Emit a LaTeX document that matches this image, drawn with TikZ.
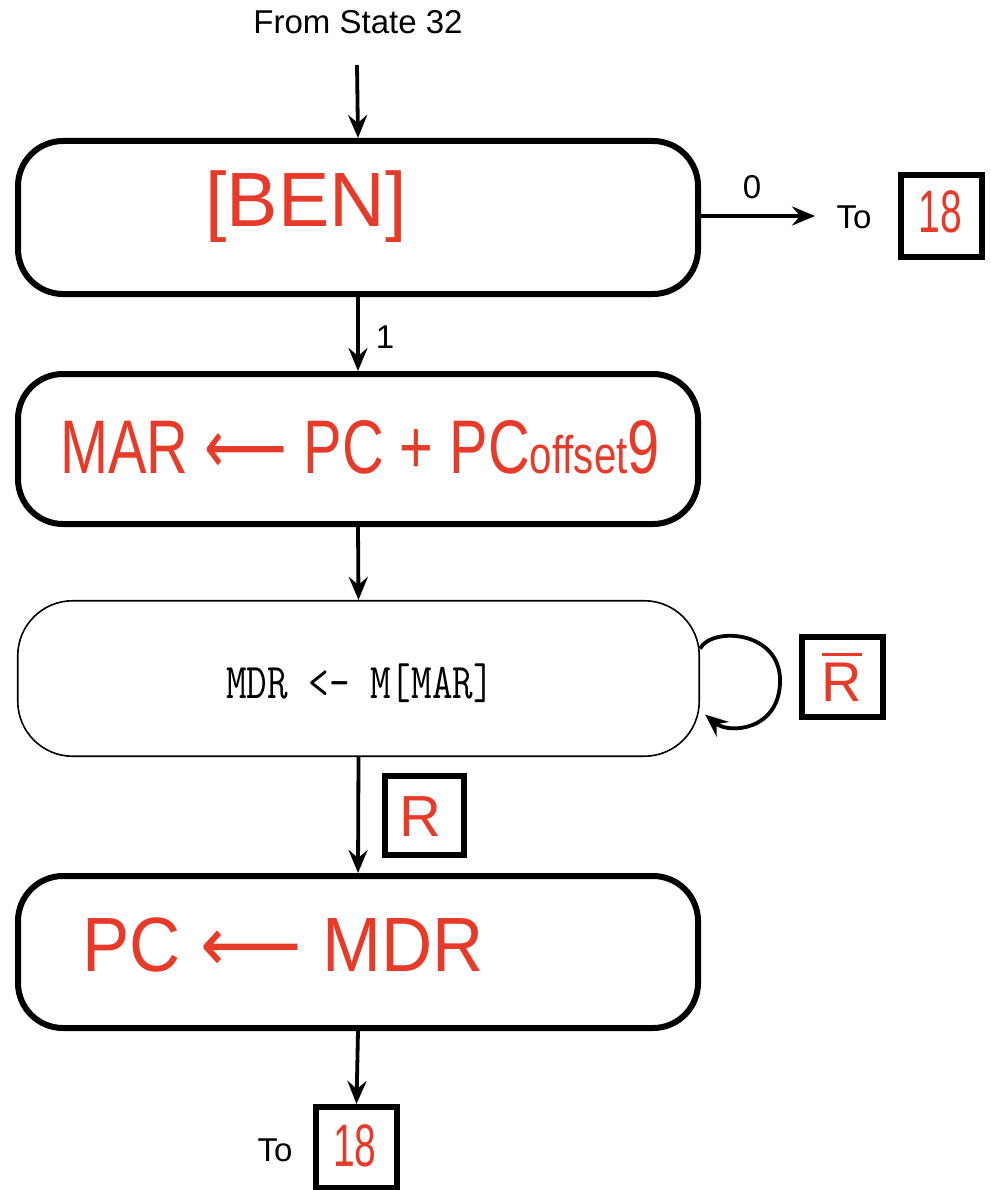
\documentclass[tikz,border=0pt]{standalone}
\usepackage{fontspec}
\setmainfont{Liberation Sans}
\setmonofont{Latin Modern Mono}
\newfontfamily\symf{DejaVu Sans}
\usetikzlibrary{arrows.meta,calc}
\definecolor{hand}{RGB}{232,58,40}
\begin{document}
\begin{tikzpicture}[x=1pt,y=-1pt,
  state/.style={draw, line width=6pt, rounded corners=45pt, minimum width=680pt, minimum height=153pt, inner sep=0pt},
  thinstate/.style={draw, line width=1.6pt, rounded corners=55pt, minimum width=681.5pt, minimum height=155.5pt, inner sep=0pt},
  tagbox/.style={draw, line width=6pt, minimum width=81pt, minimum height=81pt, inner sep=0pt},
  lbl/.style={font=\fontsize{33}{40}\selectfont, inner sep=0pt},
  hw/.style={text=hand, inner sep=0pt},
  conn/.style={line width=3.8pt, -{Stealth[length=23pt,width=19pt,inset=8pt]}}]
\useasboundingbox (0,0) rectangle (990,1190);

% states
\node[state] (s1) at (358,217.5) {};
\node[state, minimum height=150pt] (s2) at (358,449) {};
\node[thinstate] (s3) at (358.5,678.5) {};
\node[state, minimum height=152pt] (s4) at (358,952) {};

% texts inside states
\node[hw, font=\fontsize{77}{80}\selectfont] (t1) at (306,207) {[BEN]};
\node[hw, font=\fontsize{76}{80}\selectfont] (t2) at (360,447)
  {\scalebox{0.76}[1]{MAR {\symf ⟵} PC + PC{\fontsize{53}{56}\selectfont offset}9}};
\node[font=\ttfamily\fontsize{50}{54}\selectfont, inner sep=0pt] (t3) at (360,683)
  {\scalebox{0.8}[1]{MDR <- M[MAR]}};
\node[hw, font=\fontsize{77}{80}\selectfont] (t4) at (283,945)
  {\scalebox{0.92}[1]{PC {\symf ⟵} MDR}};

% top entry
\node[lbl] (from) at (358,22) {From State 32};
\coordinate (fromend) at (357,65);
\draw[conn] (fromend) -- (s1.north);

% right exit of state 1
\coordinate (zeroend) at (815,216);
\draw[conn] (s1.east |- zeroend) -- (zeroend);
\node[lbl] (zero) at (752,187) {0};
\node[lbl] (to1) at (854,217) {To};
\node[tagbox] (b1) at (941,216) {};
\node[hw, font=\fontsize{60}{66}\selectfont] (n1) at (940,212) {\scalebox{0.65}[1]{18}};

% state 1 -> state 2
\draw[conn] (s1.south) -- (s2.north);
\node[lbl] (one) at (385,337) {1};

% state 2 -> state 3
\draw[conn] (s2.south) -- (s3.north);

% self loop on state 3
\draw[conn] ($(s3.east)+(0,-30)$) .. controls +(12,-22) and +(0,-50) ..
  ($(s3.east)+(80,2)$) .. controls +(0,50) and +(24,20) .. ($(s3.east)+(5,36)$);
\node[tagbox, minimum height=80pt] (b2) at (842,677) {};
\node[hw, font=\fontsize{56}{60}\selectfont] (rbar) at (842,677)
  {\vbox{\hrule height 3pt\kern 7pt\hbox{R}}};

% state 3 -> state 4
\draw[conn] (s3.south) -- (s4.north);
\node[tagbox, minimum width=79pt, minimum height=79pt] (b3) at (424.5,815.5) {};
\node[hw, font=\fontsize{58}{62}\selectfont] (r) at (420,817) {R};

% bottom exit
\node[tagbox] (b4) at (356.5,1147.5) {};
\node[hw, font=\fontsize{60}{66}\selectfont] (n2) at (355,1146) {\scalebox{0.65}[1]{18}};
\node[lbl] (to2) at (275,1150) {To};
\draw[conn] (s4.south) -- (b4.north);
\end{tikzpicture}
\end{document}
